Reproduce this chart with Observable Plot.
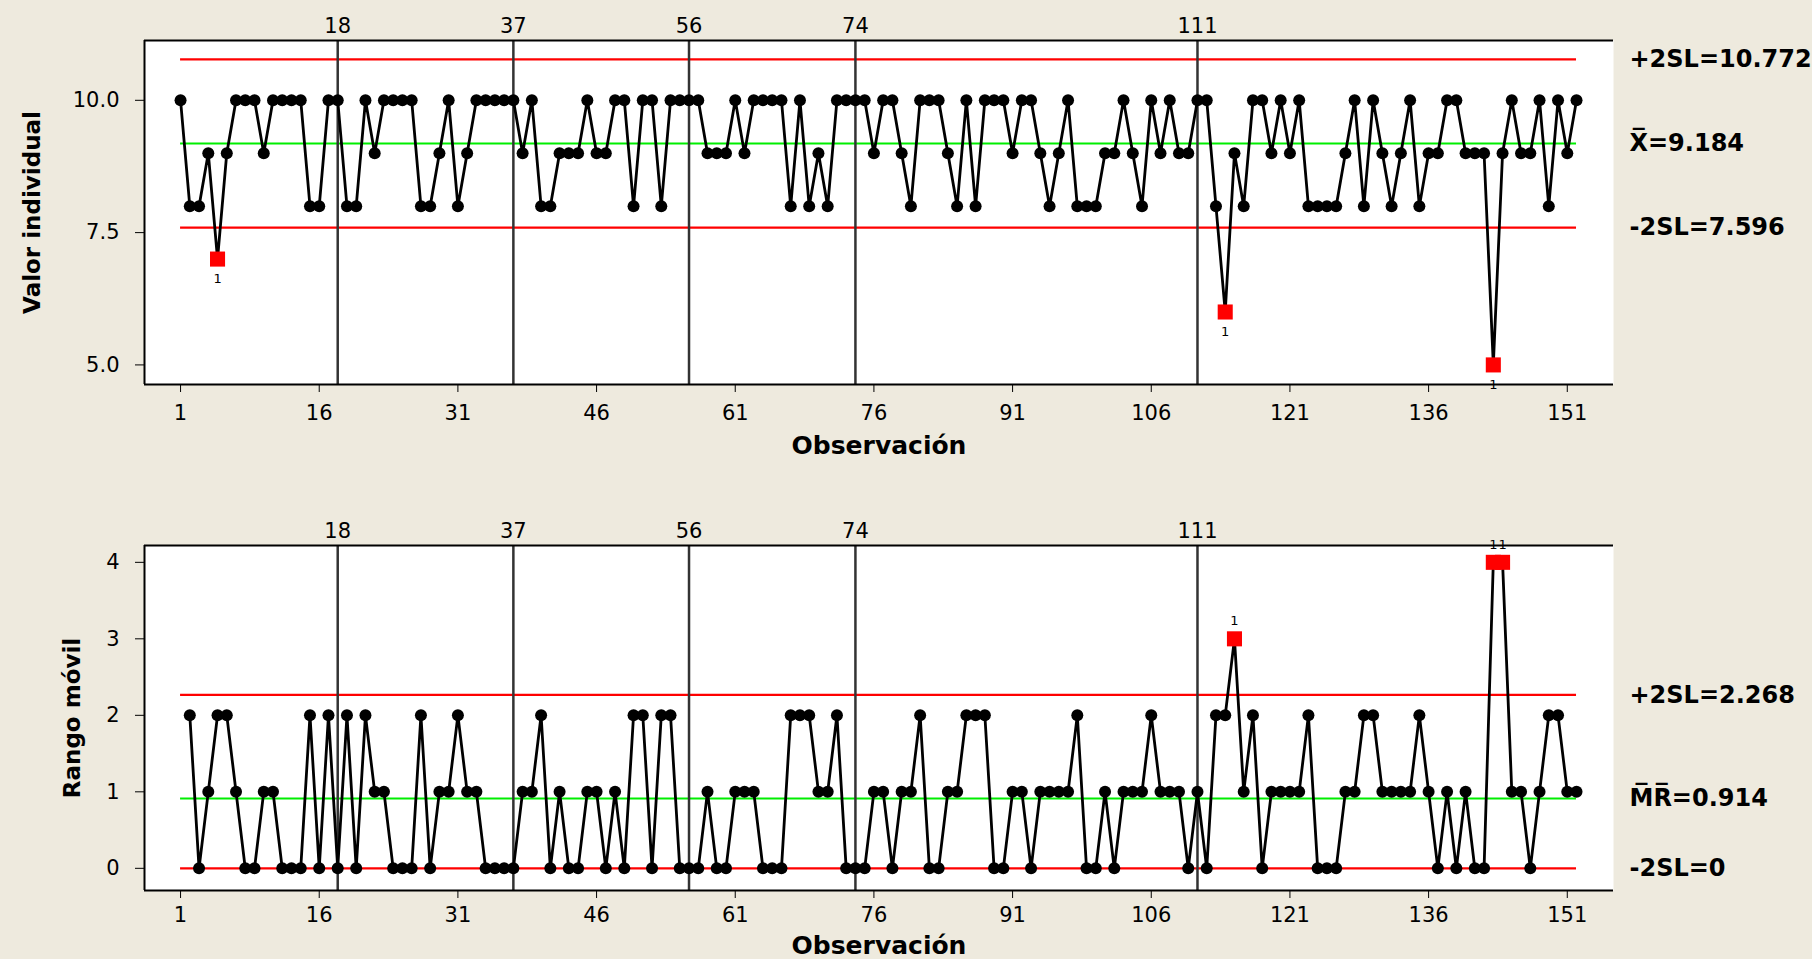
<!DOCTYPE html>
<html><head><meta charset="utf-8">
<script src="https://cdn.jsdelivr.net/npm/d3@7"></script>
<script src="https://cdn.jsdelivr.net/npm/@observablehq/plot@0.6"></script>
<style>
html,body{margin:0;padding:0;background:#eeeade;}
#chart{width:1812px;height:959px;overflow:hidden;}
svg{display:block;}
</style></head><body><div id="chart"></div>
<script>
// Valores individuales (observaciones 1..152)
const valores = [
10, 8, 8, 9, 7, 9, 10, 10, 10, 9,
10, 10, 10, 10, 8, 8, 10, 10, 8, 8,
10, 9, 10, 10, 10, 10, 8, 8, 9, 10,
8, 9, 10, 10, 10, 10, 10, 9, 10, 8,
8, 9, 9, 9, 10, 9, 9, 10, 10, 8,
10, 10, 8, 10, 10, 10, 10, 9, 9, 9,
10, 9, 10, 10, 10, 10, 8, 10, 8, 9,
8, 10, 10, 10, 10, 9, 10, 10, 9, 8,
10, 10, 10, 9, 8, 10, 8, 10, 10, 10,
9, 10, 10, 9, 8, 9, 10, 8, 8, 8,
9, 9, 10, 9, 8, 10, 9, 10, 9, 9,
10, 10, 8, 6, 9, 8, 10, 10, 9, 10,
9, 10, 8, 8, 8, 8, 9, 10, 8, 10,
9, 8, 9, 10, 8, 9, 9, 10, 10, 9,
9, 9, 5, 9, 10, 9, 9, 10, 8, 10,
9, 10];
// Rango móvil (observaciones 2..152)
const rangoMovil = [
2, 0, 1, 2, 2, 1, 0, 0, 1,
1, 0, 0, 0, 2, 0, 2, 0, 2, 0,
2, 1, 1, 0, 0, 0, 2, 0, 1, 1,
2, 1, 1, 0, 0, 0, 0, 1, 1, 2,
0, 1, 0, 0, 1, 1, 0, 1, 0, 2,
2, 0, 2, 2, 0, 0, 0, 1, 0, 0,
1, 1, 1, 0, 0, 0, 2, 2, 2, 1,
1, 2, 0, 0, 0, 1, 1, 0, 1, 1,
2, 0, 0, 1, 1, 2, 2, 2, 0, 0,
1, 1, 0, 1, 1, 1, 1, 2, 0, 0,
1, 0, 1, 1, 1, 2, 1, 1, 1, 0,
1, 0, 2, 2, 3, 1, 2, 0, 1, 1,
1, 1, 2, 0, 0, 0, 1, 1, 2, 2,
1, 1, 1, 1, 2, 1, 0, 1, 0, 1,
0, 0, 4, 4, 1, 1, 0, 1, 2, 2,
1, 1];
const etapas = [18, 37, 56, 74, 111];
const ticksX = [1, 16, 31, 46, 61, 76, 91, 106, 121, 136, 151];
const ticksI = [5, 7.5, 10];
const ticksMR = [0, 1, 2, 3, 4];
const limitesI = {sup: 10.772, centro: 9.184, inf: 7.596};
const limitesMR = {sup: 2.268, centro: 0.914, inf: 0};
const etiquetasI = ["+2SL=10.772", "X\u0305=9.184", "-2SL=7.596"];
const etiquetasMR = ["+2SL=2.268", "M\u0305R\u0305=0.914", "-2SL=0"];

const FONT = "DejaVu Sans";
const xDomain = [-2.9, 156];

function grafico({datos, lim, etiquetas, yDomain, yTicks, yFormat, yLabel, yLabelX, height, marginTop, marginBottom, flagDy, xPad, obsDy}) {
  const fuera = datos.filter(d => d.y > lim.sup || d.y < lim.inf);
  const dentro = datos.filter(d => !(d.y > lim.sup || d.y < lim.inf));
  const xs = d3.extent(valores, (_, i) => i + 1);
  const limRows = [
    {valor: lim.sup, texto: etiquetas[0]},
    {valor: lim.centro, texto: etiquetas[1]},
    {valor: lim.inf, texto: etiquetas[2]}
  ];
  const rojos = [limRows[0], limRows[2]];
  const verdes = [limRows[1]];
  return Plot.plot({
    width: 1812, height, marginLeft: 144, marginRight: 199, marginTop, marginBottom,
    x: {domain: xDomain},
    y: {domain: yDomain},
    style: {fontFamily: FONT, fontSize: "21px", background: "transparent", color: "black", overflow: "visible"},
    marks: [
      Plot.frame({fill: "white", stroke: null}),
      Plot.ruleY(rojos, {y: "valor", x1: () => xs[0], x2: () => xs[1], stroke: "#ff0000", strokeWidth: 2.2}),
      Plot.ruleY(verdes, {y: "valor", x1: () => xs[0], x2: () => xs[1], stroke: "#00ee00", strokeWidth: 2}),
      Plot.ruleX(etapas, {stroke: "#333333", strokeWidth: 2.5}),
      Plot.ruleY([yDomain[1]], {stroke: "black", strokeWidth: 2}),
      Plot.ruleY([yDomain[0]], {stroke: "black", strokeWidth: 2}),
      Plot.ruleX([xDomain[0]], {stroke: "black", strokeWidth: 2}),
      Plot.axisX({anchor: "bottom", ticks: ticksX, tickSize: 8, tickPadding: xPad, label: null, fontSize: 21}),
      Plot.axisX({anchor: "top", ticks: etapas, tickSize: 0, tickPadding: 8, label: null, fontSize: 21}),
      Plot.axisY({ticks: yTicks, tickFormat: yFormat, tickSize: 9, tickPadding: 16, label: null, fontSize: 21}),
      Plot.line(datos, {x: "x", y: "y", stroke: "black", strokeWidth: 2.8}),
      Plot.dot(dentro, {x: "x", y: "y", r: 6, fill: "black"}),
      Plot.dot(fuera, {x: "x", y: "y", symbol: "square", r: 8.5, fill: "#ff0000"}),
      Plot.text(fuera, {x: "x", y: "y", text: () => "1", dy: flagDy, fontSize: 13}),
      Plot.text(limRows, {y: "valor", frameAnchor: "right", text: "texto", textAnchor: "start", dx: 16, fontSize: 24, fontWeight: "bold"}),
      Plot.text(["Observación"], {frameAnchor: "bottom", lineAnchor: "middle", textAnchor: "middle", dy: obsDy, fontSize: 25, fontWeight: "bold"}),
      Plot.text([yLabel], {frameAnchor: "left", textAnchor: "middle", lineAnchor: "middle", rotate: -90, dx: -(144 - yLabelX), fontSize: 23, fontWeight: "bold"})
    ]
  });
}

const datosI = valores.map((v, i) => ({x: i + 1, y: v}));
const datosMR = rangoMovil.map((v, i) => ({x: i + 2, y: v}));

const c = document.getElementById("chart");
c.appendChild(grafico({
  datos: datosI, lim: limitesI, etiquetas: etiquetasI,
  yDomain: [4.63, 11.13], yTicks: ticksI, yFormat: d3.format(".1f"),
  yLabel: "Valor individual", yLabelX: 32,
  height: 480, marginTop: 40, marginBottom: 96, flagDy: 20, xPad: 13, obsDy: 61
}));
c.appendChild(grafico({
  datos: datosMR, lim: limitesMR, etiquetas: etiquetasMR,
  yDomain: [-0.29, 4.22], yTicks: ticksMR, yFormat: d3.format("d"),
  yLabel: "Rango móvil", yLabelX: 72,
  height: 479, marginTop: 65, marginBottom: 69, flagDy: -18, xPad: 9, obsDy: 55
}));
</script></body></html>
